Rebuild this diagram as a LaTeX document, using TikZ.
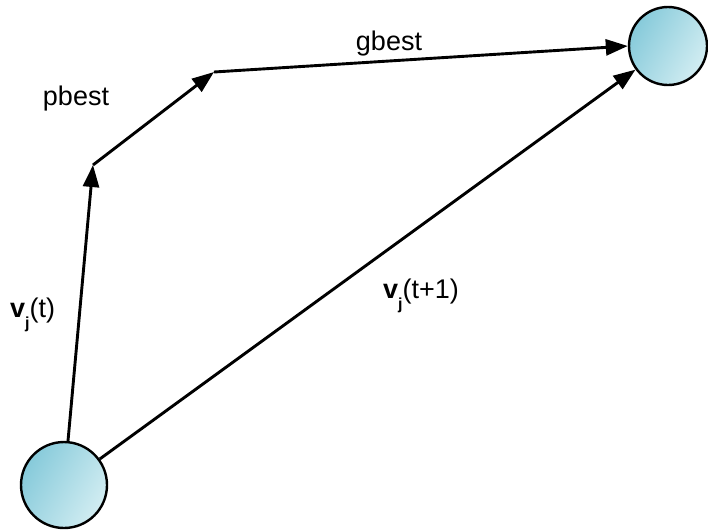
\documentclass[tikz,border=0pt]{standalone}
\usepackage{fontspec}
\setmainfont{Liberation Sans}
\usetikzlibrary{arrows.meta}
\definecolor{dk}{HTML}{86CADA}
\definecolor{lt}{HTML}{D2EDF2}
\newcommand{\vsub}{{\bfseries v}\raisebox{-0.42em}{\fontsize{16}{17}\selectfont\bfseries j}}
\begin{document}
\begin{tikzpicture}[x=1pt,y=-1pt,
  ball/.style={circle,draw=black,line width=2.4pt,minimum size=#1,inner sep=0pt,
    shading=axis,left color=dk,right color=lt,shading angle=60},
  vec/.style={line width=2.9pt,-{Triangle[length=22pt,width=16pt]}},
  lbl/.style={font=\fontsize{27}{31}\selectfont,inner sep=0pt}]
\useasboundingbox (0,0) rectangle (708,531);
\node[ball=86pt] (a) at (64,485) {};
\node[ball=78pt] (b) at (668,46) {};
\coordinate (p) at (93,165);
\coordinate (q) at (214,72);
\draw[vec] (a) -- (p);
\draw[vec] (p) -- (q);
\draw[vec] (q) -- (b.west);
\draw[vec] (a) -- (b);
\node[lbl,anchor=base] (pb) at (76,105) {pbest};
\node[lbl,anchor=base] (gb) at (389,50) {gbest};
\node[lbl,anchor=base west] (vt) at (10,317) {\vsub(t)};
\node[lbl,anchor=base west] (vt1) at (383,298) {\vsub(t+1)};
\end{tikzpicture}
\end{document}
